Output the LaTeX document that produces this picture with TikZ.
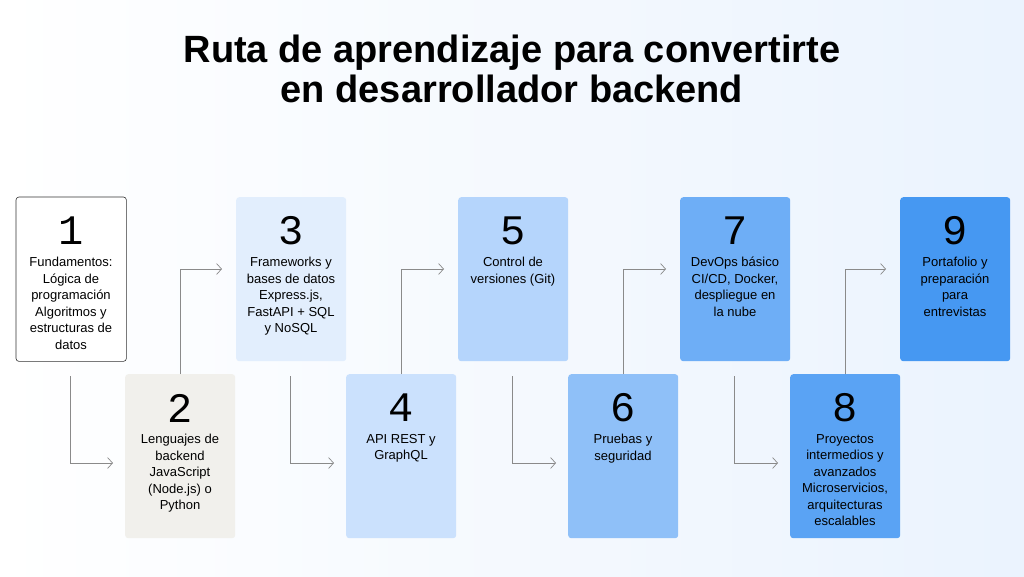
\documentclass[tikz,border=0pt]{standalone}
\usepackage{fontspec}
\setmainfont{Liberation Sans}
\newfontfamily\numfont{Liberation Mono}
\usetikzlibrary{arrows.meta}
\definecolor{c1}{HTML}{FFFFFF}
\definecolor{c2}{HTML}{F1F0EC}
\definecolor{c3}{HTML}{E2EEFD}
\definecolor{c4}{HTML}{CBE1FD}
\definecolor{c5}{HTML}{B5D5FC}
\definecolor{c6}{HTML}{8FC0F8}
\definecolor{c7}{HTML}{6EAEF6}
\definecolor{c8}{HTML}{5AA3F4}
\definecolor{c9}{HTML}{4698F2}
\definecolor{ln}{HTML}{8A8A8A}
\tikzset{stepbox/.style={rounded corners=3pt,minimum width=110pt,minimum height=164pt,inner sep=0pt},
 num/.style={font=\numfont\fontsize{42}{42}\selectfont,anchor=center},
 desc/.style={font=\fontsize{13}{16.5}\selectfont,align=center,anchor=north,inner sep=0pt},
 conn/.style={draw=ln,line width=0.7pt,-{Straight Barb[length=5pt,width=11pt]}}}
\begin{document}
\begin{tikzpicture}[x=1pt,y=-1pt]
\shade[left color=white,right color=c3!70] (0,0) rectangle (1024,576);
\useasboundingbox (0,0) rectangle (1024,576);
\node[font=\fontsize{38}{40}\selectfont\bfseries,align=center] (title) at (512,69) {Ruta de aprendizaje para convertirte\\en desarrollador backend};
\foreach \i/\x/\y/\t in {1/16/197/{Fundamentos:\\Lógica de\\programación\\Algoritmos y\\estructuras de\\datos},
 2/125/374/{Lenguajes de\\backend\\JavaScript\\(Node.js) o\\Python},
 3/236/197/{Frameworks y\\bases de datos\\Express.js,\\FastAPI + SQL\\y NoSQL},
 4/346/374/{API REST y\\GraphQL},
 5/458/197/{Control de\\versiones (Git)},
 6/568/374/{Pruebas y\\seguridad},
 7/680/197/{DevOps básico\\CI/CD, Docker,\\despliegue en\\la nube},
 8/790/374/{Proyectos\\intermedios y\\avanzados\\Microservicios,\\arquitecturas\\escalables},
 9/900/197/{Portafolio y\\preparación\\para\\entrevistas}}{
 \node[stepbox,fill=c\i,anchor=north west] (b\i) at (\x,\y) {};
 \node[num] (n\i) at (\x+55,\y+34) {\i};
 \node[desc] (d\i) at (\x+55,\y+60) {\t};
}
\draw[draw=black!80,line width=0.6pt,rounded corners=3pt] (b1.north west) rectangle (b1.south east);
\foreach \a/\b in {1/2,3/4,5/6,7/8}{
 \path (b\a.south) ++(-1,15) coordinate (s\a);
 \path (b\b.north west) ++(-12,89) coordinate (e\a);
 \draw[conn] (s\a) |- (e\a);
}
\foreach \a/\b in {2/3,4/5,6/7,8/9}{
 \path (b\a.north) coordinate (s\a);
 \path (b\b.north west) ++(-14,72) coordinate (e\a);
 \draw[conn] (s\a) |- (e\a);
}
\end{tikzpicture}
\end{document}
